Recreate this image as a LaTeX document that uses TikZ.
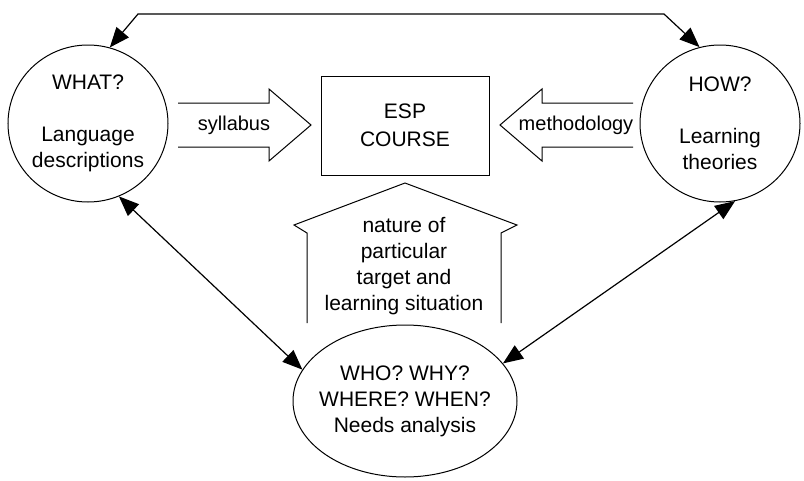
\documentclass[tikz,border=0pt]{standalone}
\usepackage{fontspec}
\setmainfont{Liberation Sans}
\usetikzlibrary{shapes.geometric,arrows.meta}
\begin{document}
\begin{tikzpicture}[x=1pt,y=-1pt,
  ell/.style={draw, ellipse, line width=1pt, inner sep=0pt},
  txt/.style={align=center, font=\fontsize{21}{26}\selectfont, inner sep=0pt},
  lbl/.style={font=\fontsize{20}{24}\selectfont, inner sep=0pt},
  blk/.style={draw, line width=1pt, line join=miter},
  conn/.style={line width=1.2pt, {Triangle[length=20pt,width=16pt]}-{Triangle[length=20pt,width=16pt]}}
]
\useasboundingbox (0,0) rectangle (804,480);
% ellipses
\node[ell, minimum width=160pt, minimum height=157pt] (what) at (88,123.5) {};
\node[txt] (whattxt) at (what) {WHAT?\\[26pt]Language\\descriptions};
\node[ell, minimum width=160pt, minimum height=157pt] (how) at (720,123.5) {};
\node[txt] (howtxt) at (how) {HOW?\\[26pt]Learning\\theories};
\node[ell, minimum width=224pt, minimum height=152pt] (who) at (405,401) {};
\node[txt] (whotxt) at (who) {WHO? WHY?\\WHERE? WHEN?\\Needs analysis};
% course box
\node[draw, line width=1pt, minimum width=168pt, minimum height=99pt] (esp) at (405,125.5) {};
\node[txt, font=\fontsize{21}{28}\selectfont] (esptxt) at (esp) {ESP\\COURSE};
% block arrows
\draw[blk] (178,103) -- (269,103) -- (269,89) -- (311,125) -- (269,161) -- (269,147) -- (178,147);
\node[lbl] (syl) at (234,125) {syllabus};
\draw[blk] (633,103) -- (542,103) -- (542,89) -- (500,125) -- (542,161) -- (542,147) -- (633,147);
\node[lbl] (meth) at (576,125) {methodology};
\draw[blk] (307,323) -- (307,233) -- (294,225) -- (405,183) -- (517,225) -- (501,233) -- (501,323);
\node[txt] (nat) at (404,266.5) {nature of\\particular\\target and\\learning situation};
% connectors
\coordinate (c1) at (138,14);
\coordinate (c2) at (664,14);
\draw[conn] (what.74) -- (c1) -- (c2) -- (how.105);
\draw[conn] (what.-67) -- (who.163);
\draw[conn] (how.-79) -- (who.21);
\end{tikzpicture}
\end{document}
